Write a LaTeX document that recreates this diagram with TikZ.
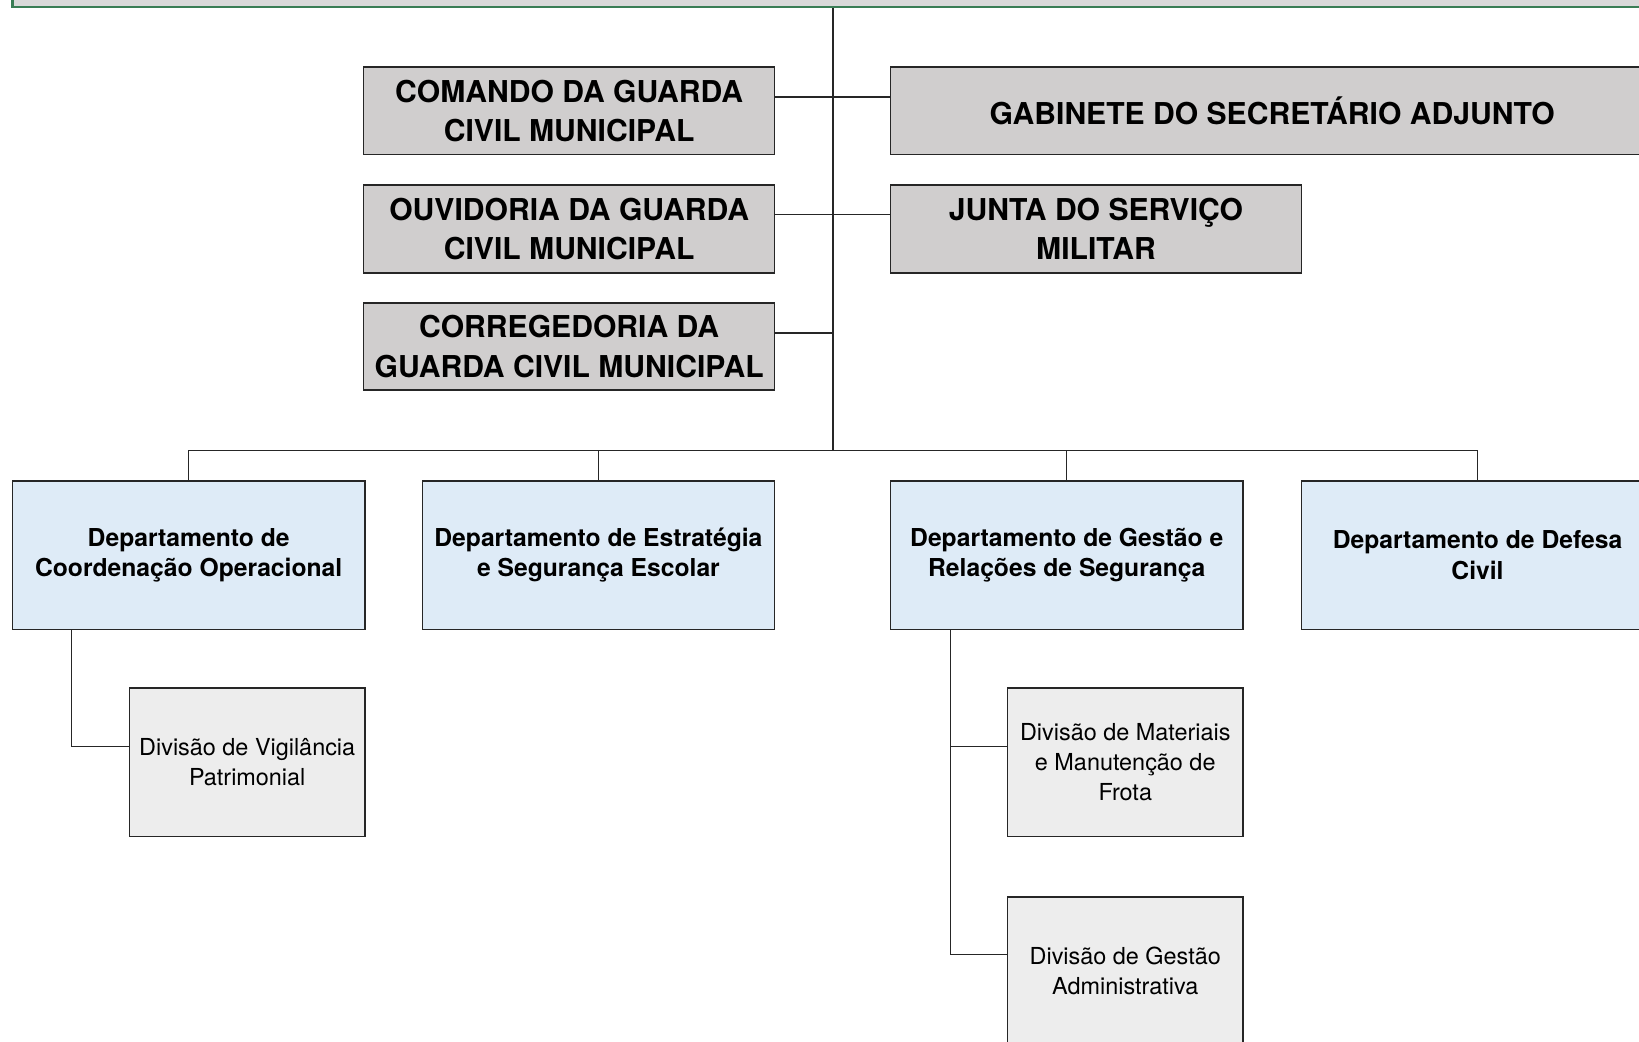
\documentclass[tikz,border=0pt]{standalone}
\usepackage{fontspec}
\setmainfont{TeX Gyre Heros}
\definecolor{unitgray}{HTML}{D0CECE}
\definecolor{deptblue}{HTML}{DEEBF7}
\definecolor{divgray}{HTML}{EDEDED}
\definecolor{topgray}{HTML}{D9D9D9}
\definecolor{topgreen}{HTML}{3A7D55}
\definecolor{edge}{HTML}{262626}
\begin{document}
\begin{tikzpicture}[x=1pt,y=-1pt,
  box/.style={draw=edge, line width=1.4pt, inner sep=0pt, align=center, text=black},
  unit/.style={box, fill=unitgray, font=\fontsize{28.8}{37.5}\selectfont\bfseries},
  dept/.style={box, fill=deptblue, minimum width=337pt, minimum height=142pt, font=\fontsize{23.6}{29}\selectfont\bfseries},
  divi/.style={box, fill=divgray, minimum width=225pt, minimum height=142pt, font=\fontsize{22.4}{29}\selectfont},
  link/.style={draw=edge, line width=1.4pt}]
\useasboundingbox (0,0) rectangle (1568,996);
\clip (0,0) rectangle (1568,996);
\fill[white] (0,0) rectangle (1568,996);

\node[draw=topgreen, line width=2.2pt, fill=topgray, minimum width=1588pt, minimum height=60pt, inner sep=0pt] (sec) at (806,-23) {};

\node[unit, minimum width=393pt, minimum height=84pt] (com) at (544.5,106) {COMANDO DA GUARDA\\CIVIL MUNICIPAL};
\node[unit, minimum width=730pt, minimum height=84pt] (gab) at (1217,106) {GABINETE DO SECRETÁRIO ADJUNTO};
\node[unit, minimum width=393pt, minimum height=84pt] (ouv) at (544.5,219) {OUVIDORIA DA GUARDA\\CIVIL MUNICIPAL};
\node[unit, minimum width=393pt, minimum height=84pt] (jun) at (1048.5,219) {JUNTA DO SERVIÇO\\MILITAR};
\node[unit, minimum width=393pt, minimum height=83pt] (cor) at (544.5,331.5) {CORREGEDORIA DA\\GUARDA CIVIL MUNICIPAL};

\node[dept] (d1) at (180.5,531) {Departamento de\\Coordenação Operacional};
\node[dept] (d2) at (572.5,531) {Departamento de Estratégia\\e Segurança Escolar};
\node[dept] (d3) at (1020.5,531) {Departamento de Gestão e\\Relações de Segurança};
\node[dept] (d4) at (1413.5,531) {Departamento de Defesa\\Civil};

\node[divi] (v1) at (236.5,729) {Divisão de Vigilância\\Patrimonial};
\node[divi] (v3) at (1076.5,729) {Divisão de Materiais\\e Manutenção de\\Frota};
\node[divi] (v4) at (1076.5,929) {Divisão de Gestão\\Administrativa};

\coordinate (j) at (797,431);
\draw[link] (sec.south -| j) -- (j);
\draw[link] ([yshift=13pt]com.east) -- ([yshift=13pt]gab.west);
\draw[link] ([yshift=14pt]ouv.east) -- ([yshift=14pt]jun.west);
\draw[link] ([yshift=13pt]cor.east) -- ([yshift=13pt]cor.east -| j);
\draw[link] (d1.north) -- (d1.north |- j) -- (d4.north |- j) -- (d4.north);
\draw[link] (d2.north) -- (d2.north |- j);
\draw[link] (d3.north) -- (d3.north |- j);
\draw[link] ([xshift=-112pt]d1.south) |- ([yshift=15pt]v1.west);
\draw[link] ([xshift=-111pt]d3.south) |- ([yshift=15pt]v3.west);
\draw[link] ([xshift=-111pt]d3.south) |- ([yshift=16pt]v4.west);
\end{tikzpicture}
\end{document}
